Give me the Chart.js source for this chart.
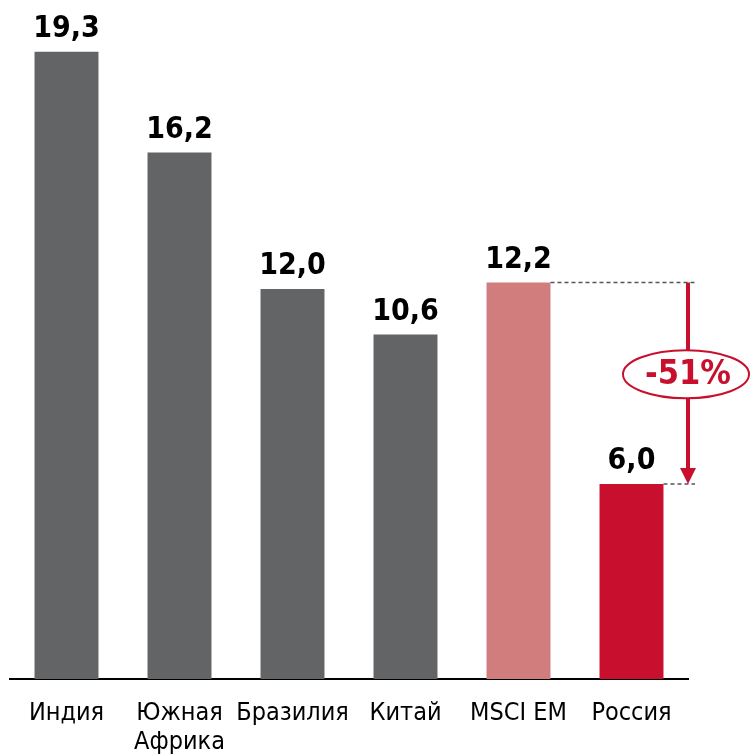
<!DOCTYPE html>
<html>
<head>
<meta charset="utf-8">
<script src="https://cdn.jsdelivr.net/npm/chart.js@4/dist/chart.umd.min.js"></script>
<style>
  html, body { margin: 0; padding: 0; background: #fff; }
  #wrap { width: 750px; height: 756px; position: relative; }
</style>
</head>
<body>
<div id="wrap"><canvas id="peChart"></canvas></div>
<script>
// P/E по странам
const countries = ["Индия", ["Южная", "Африка"], "Бразилия", "Китай", "MSCI EM", "Россия"];
const peValues = [19.3, 16.2, 12.0, 10.6, 12.2, 6.0];
const barColors = ["#636466", "#636466", "#636466", "#636466", "#D17C7D", "#C8102E"];
const redAccent = "#C8102E";
const boldFont = "'DejaVu Sans Condensed', 'DejaVu Sans', sans-serif";

const fmt = (v) => v.toFixed(1).replace(".", ",");

// подписи значений над столбиками
const valueLabels = {
  id: "valueLabels",
  afterDatasetsDraw(chart) {
    const ctx = chart.ctx;
    const meta = chart.getDatasetMeta(0);
    ctx.save();
    ctx.font = "bold 30px " + boldFont;
    ctx.fillStyle = "#000";
    ctx.textAlign = "center";
    ctx.textBaseline = "alphabetic";
    meta.data.forEach((bar, i) => {
      ctx.fillText(fmt(peValues[i]), bar.x, bar.y - 15);
    });
    ctx.restore();
  }
};

// стрелка разницы MSCI EM -> Россия
const gapArrow = {
  id: "gapArrow",
  afterDatasetsDraw(chart) {
    const ctx = chart.ctx;
    const meta = chart.getDatasetMeta(0);
    const from = meta.data[4];
    const to = meta.data[5];
    const ax = chart.chartArea.right;
    const lineEnd = ax + 7;
    const y1 = from.y;
    const y2 = to.y;

    ctx.save();
    ctx.strokeStyle = "#555";
    ctx.lineWidth = 1.5;
    ctx.setLineDash([4, 3]);
    ctx.beginPath();
    ctx.moveTo(from.x + from.width / 2, y1);
    ctx.lineTo(lineEnd, y1);
    ctx.moveTo(to.x + to.width / 2, y2);
    ctx.lineTo(lineEnd, y2);
    ctx.stroke();
    ctx.setLineDash([]);

    // стержень и наконечник
    ctx.strokeStyle = redAccent;
    ctx.fillStyle = redAccent;
    ctx.lineWidth = 4;
    ctx.beginPath();
    ctx.moveTo(ax, y1);
    ctx.lineTo(ax, y2 - 14);
    ctx.stroke();
    ctx.beginPath();
    ctx.moveTo(ax - 8, y2 - 16);
    ctx.lineTo(ax + 8, y2 - 16);
    ctx.lineTo(ax, y2);
    ctx.closePath();
    ctx.fill();

    // овал с процентом
    const cx = ax - 2;
    const cy = (y1 + y2) / 2 - 9;
    ctx.beginPath();
    ctx.ellipse(cx, cy, 63, 24, 0, 0, Math.PI * 2);
    ctx.fillStyle = "#fff";
    ctx.fill();
    ctx.lineWidth = 2;
    ctx.stroke();

    const pct = Math.round((peValues[5] / peValues[4] - 1) * 100);
    ctx.fillStyle = redAccent;
    ctx.font = "bold 34px " + boldFont;
    ctx.textAlign = "center";
    ctx.textBaseline = "middle";
    ctx.fillText(pct + "%", cx + 2, cy + 1);
    ctx.restore();
  }
};

new Chart(document.getElementById("peChart"), {
  type: "bar",
  data: {
    labels: countries,
    datasets: [
      {
        data: peValues,
        backgroundColor: barColors,
        barPercentage: 0.566,
        categoryPercentage: 1.0,
      },
    ],
  },
  options: {
    responsive: true,
    maintainAspectRatio: false,
    animation: false,
    layout: { padding: { top: 29, left: 10, right: 62, bottom: 0 } },
    plugins: {
      legend: { display: false },
      tooltip: { enabled: false },
    },
    scales: {
      x: {
        grid: { display: false, drawTicks: false },
        border: { display: true, color: "#000", width: 2 },
        ticks: {
          color: "#000",
          padding: 20,
          maxRotation: 0,
          autoSkip: false,
          font: { family: "'DejaVu Sans Condensed', 'DejaVu Sans', sans-serif", size: 25, lineHeight: 1.15 },
        },
        afterFit(scale) { scale.height = 77; },
      },
      y: {
        display: false,
        min: 0,
        max: 20,
      },
    },
  },
  plugins: [valueLabels, gapArrow],
});
</script>
</body>
</html>
